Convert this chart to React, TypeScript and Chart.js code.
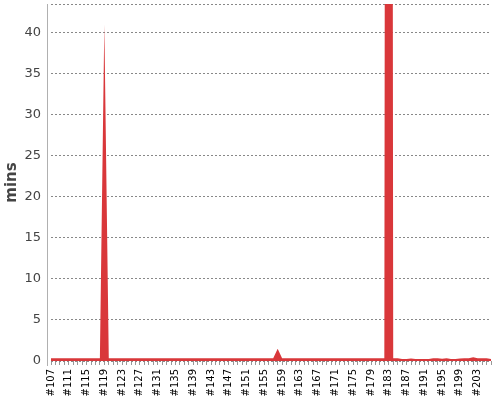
import { useEffect, useRef } from "react";
import { Chart, registerables } from "chart.js";

Chart.register(...registerables);

// builds #107 .. #206
const firstBuild = 107;
const buildCount = 100;
const builds = Array.from({ length: buildCount }, (_, i) => `#${firstBuild + i}`);

// minutes per build
const durations: number[] = [
  // #107 - #116
  0.35, 0.35, 0.35, 0.35, 0.35, 0.35, 0.35, 0.35, 0.35, 0.35,
  // #117 - #126
  0.35, 0.35, 41, 0.35, 0.35, 0.35, 0.35, 0.35, 0.35, 0.35,
  // #127 - #136
  0.35, 0.35, 0.35, 0.35, 0.35, 0.35, 0.35, 0.35, 0.35, 0.35,
  // #137 - #146
  0.35, 0.35, 0.35, 0.35, 0.35, 0.35, 0.35, 0.35, 0.35, 0.35,
  // #147 - #156
  0.35, 0.35, 0.35, 0.35, 0.35, 0.35, 0.35, 0.35, 0.35, 0.35,
  // #157 - #166
  0.35, 1.5, 0.35, 0.35, 0.35, 0.35, 0.35, 0.35, 0.35, 0.35,
  // #167 - #176
  0.35, 0.35, 0.35, 0.35, 0.35, 0.35, 0.35, 0.35, 0.35, 0.35,
  // #177 - #186
  0.35, 0.35, 0.35, 0.35, 0.35, 0.35, 480, 0.35, 0.35, 0.25,
  // #187 - #196
  0.25, 0.3, 0.25, 0.25, 0.25, 0.25, 0.32, 0.33, 0.28, 0.32,
  // #197 - #206
  0.25, 0.25, 0.3, 0.33, 0.35, 0.45, 0.32, 0.32, 0.32, 0.25,
];

const yMax = 43.5;
const yStep = 5;

// the value axis line sits a few pixels left of the plot
const axisLine = {
  id: "axisLine",
  beforeDatasetsDraw(chart: Chart) {
    const { ctx, chartArea } = chart;
    ctx.save();
    ctx.strokeStyle = "#b0b0b0";
    ctx.lineWidth = 1;
    ctx.beginPath();
    const x = Math.round(chartArea.left - 4) + 0.5;
    ctx.moveTo(x, chartArea.top);
    ctx.lineTo(x, chartArea.bottom + 5);
    ctx.stroke();
    ctx.restore();
  },
};

export default function App() {
  const canvasRef = useRef<HTMLCanvasElement>(null);
  const chartRef = useRef<Chart | null>(null);

  useEffect(() => {
    document.body.style.margin = "0";
    if (!canvasRef.current) return;
    if (chartRef.current) chartRef.current.destroy();

    chartRef.current = new Chart(canvasRef.current, {
      type: "line",
      data: {
        labels: builds,
        datasets: [
          {
            label: "mins",
            data: durations,
            fill: "origin",
            backgroundColor: "#d9373a",
            borderColor: "#d9373a",
            borderWidth: 0,
            pointRadius: 0,
            tension: 0,
          },
        ],
      },
      options: {
        responsive: false,
        animation: false,
        layout: { padding: { top: 4, right: 9, bottom: 0, left: 0 } },
        plugins: {
          legend: { display: false },
          tooltip: { enabled: false },
        },
        scales: {
          x: {
            offset: false,
            border: { display: false },
            grid: {
              drawOnChartArea: false,
              drawTicks: true,
              tickLength: 4,
              color: "#999999",
            },
            ticks: {
              autoSkip: false,
              maxRotation: 90,
              minRotation: 90,
              padding: 4,
              color: "#000000",
              font: { family: "DejaVu Sans", size: 10 },
              callback: (_v, i) => (i % 4 === 0 ? builds[i] : ""),
            },
            afterFit: (scale: any) => {
              scale.height = 39;
              scale.paddingLeft = 0;
              scale.paddingRight = 0;
            },
          },
          y: {
            min: 0,
            max: yMax,
            border: { display: false, dash: [2, 2] },
            grid: {
              color: "#888888",
              drawTicks: false,
            },
            ticks: {
              stepSize: yStep,
              padding: 10,
              color: "#444444",
              font: { family: "DejaVu Sans", size: 13 },
              callback: (v) => (Number(v) % yStep === 0 ? String(v) : ""),
            },
            title: {
              display: true,
              text: "mins",
              color: "#444444",
              padding: { top: 3, bottom: 0 },
              font: { family: "DejaVu Sans", size: 15, weight: "bold" },
            },
            afterFit: (scale: any) => {
              scale.width = 51;
              scale.paddingTop = 0;
              scale.paddingBottom = 0;
            },
          },
        },
      },
      plugins: [axisLine],
    });

    return () => {
      chartRef.current?.destroy();
      chartRef.current = null;
    };
  }, []);

  return <canvas ref={canvasRef} width={500} height={400} style={{ display: "block" }} />;
}
